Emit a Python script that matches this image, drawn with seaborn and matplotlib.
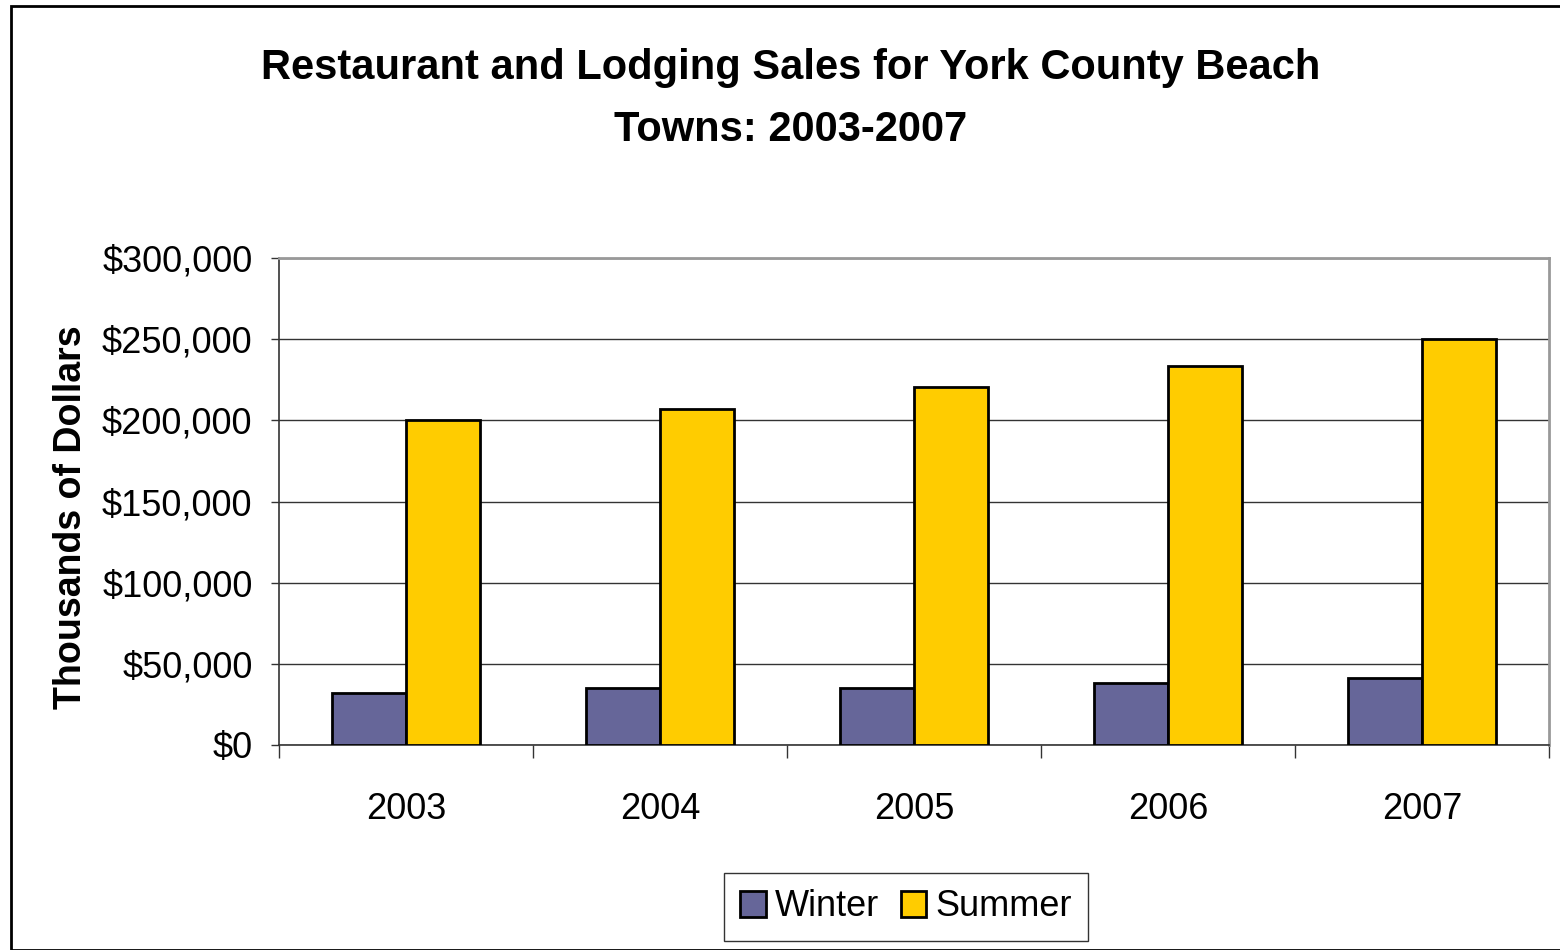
import matplotlib
matplotlib.use("Agg")
import matplotlib.pyplot as plt
import pandas as pd
import seaborn as sns
from matplotlib.patches import Rectangle
from matplotlib.ticker import FuncFormatter, FixedLocator

years = ["2003", "2004", "2005", "2006", "2007"]
winter = [32000, 35000, 35000, 38000, 41000]
summer = [200000, 207000, 220500, 233500, 250000]

COLOR_WINTER = "#666699"
COLOR_SUMMER = "#FFCC00"
FONT = ["Liberation Sans", "DejaVu Sans"]

df = pd.DataFrame({"year": years, "Winter": winter, "Summer": summer})
long = df.melt(id_vars="year", var_name="season", value_name="sales")

sns.set_theme(
    style="white",
    rc={"text.color": "black", "axes.labelcolor": "black",
        "xtick.color": "black", "ytick.color": "black"},
)
plt.rcParams["font.family"] = FONT

fig = plt.figure(figsize=(15.6, 9.5), dpi=100, facecolor="white")
ax = fig.add_axes([279 / 1560, 205 / 950, 1270 / 1560, 487 / 950])

sns.barplot(
    data=long,
    x="year",
    y="sales",
    hue="season",
    palette={"Winter": COLOR_WINTER, "Summer": COLOR_SUMMER},
    width=0.58,
    gap=0,
    edgecolor="black",
    linewidth=2,
    saturation=1,
    errorbar=None,
    ax=ax,
    zorder=3,
)

ax.set_ylim(0, 300000)
ax.set_xlim(-0.5, len(years) - 0.5)
ax.yaxis.set_major_locator(FixedLocator(range(0, 300001, 50000)))
ax.yaxis.set_major_formatter(FuncFormatter(lambda v, _: f"${v:,.0f}"))
ax.yaxis.grid(True, color="#333333", linewidth=1, zorder=0)
ax.xaxis.grid(False)
ax.set_axisbelow(True)

ax.tick_params(axis="y", which="major", left=True, length=6, width=1,
               color="#333333", pad=13, labelsize=26)
ax.tick_params(axis="x", which="major", bottom=False, pad=28, labelsize=26)
ax.set_xticks([i + 0.5 for i in range(-1, len(years))], minor=True)
ax.tick_params(axis="x", which="minor", bottom=True, length=9, width=1,
               color="#333333")

for side in ["left", "bottom"]:
    ax.spines[side].set_color("#333333")
    ax.spines[side].set_linewidth(1.2)
for side in ["top", "right"]:
    ax.spines[side].set_color("#999999")
    ax.spines[side].set_linewidth(2)

ax.set_xlabel("")
ax.set_ylabel("")
fig.text(71 / 1560, 1 - 517 / 950, "Thousands of Dollars", rotation=90,
         ha="center", va="center", fontsize=27, fontweight="bold")

fig.text(0.507, 1 - 68 / 950, "Restaurant and Lodging Sales for York County Beach",
         ha="center", va="center", fontsize=30, fontweight="bold")
fig.text(0.507, 1 - 130 / 950, "Towns: 2003-2007",
         ha="center", va="center", fontsize=30, fontweight="bold")

leg = ax.legend(
    loc="center",
    bbox_to_anchor=(906 / 1560, 43 / 950),
    bbox_transform=fig.transFigure,
    ncol=2,
    fontsize=26,
    frameon=True,
    fancybox=False,
    edgecolor="black",
    handlelength=0.7,
    handleheight=0.7,
    handletextpad=0.25,
    columnspacing=0.6,
    borderpad=0.45,
    title=None,
)
leg.get_frame().set_linewidth(1)

fig.patches.append(Rectangle((11 / 1560, 0), 1.1, 1 - 6 / 950, transform=fig.transFigure,
                             fill=False, edgecolor="black", linewidth=2))

fig.savefig("out.png", dpi=100, facecolor="white")
